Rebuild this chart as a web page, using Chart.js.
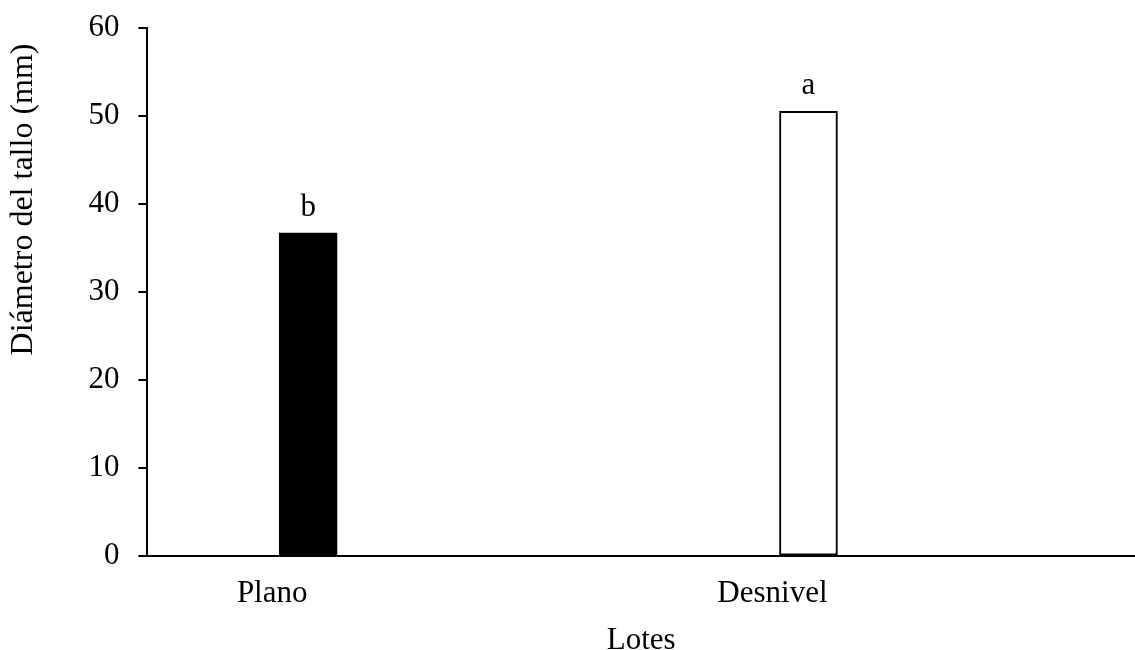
<!DOCTYPE html>
<html>
<head>
<meta charset="utf-8">
<script src="https://cdn.jsdelivr.net/npm/chart.js@4"></script>
<style>
  html, body { margin: 0; padding: 0; background: #fff; }
  #wrap { width: 1135px; height: 650px; }
</style>
</head>
<body>
<div id="wrap"><canvas id="diametroChart"></canvas></div>
<script>
// Datos del gráfico
const lotes = ["Plano", "Desnivel"];
const diametro = [36.7, 50.5];
const letras = ["b", "a"];
const colores = ["#000000", "#ffffff"];
const yTicks = [0, 10, 20, 30, 40, 50, 60];

const fuente = "'Liberation Serif', 'Times New Roman', serif";

// Letras de significancia sobre cada barra
const letrasPlugin = {
  id: "letras",
  afterDatasetsDraw(chart) {
    const ctx = chart.ctx;
    const meta = chart.getDatasetMeta(0);
    ctx.save();
    ctx.font = "31px " + fuente;
    ctx.fillStyle = "#000";
    ctx.textAlign = "center";
    ctx.textBaseline = "alphabetic";
    meta.data.forEach((bar, i) => {
      ctx.fillText(letras[i], bar.x, bar.y - 17);
    });
    ctx.restore();
  },
};

const ctx = document.getElementById("diametroChart");
const chart = new Chart(ctx, {
  type: "bar",
  data: {
    datasets: [
      {
        data: lotes.map((l, i) => ({ x: i + 1, y: diametro[i] })),
        backgroundColor: colores,
        borderColor: "#000000",
        borderWidth: 2,
        borderSkipped: false,
        barThickness: 58,
      },
    ],
  },
  options: {
    responsive: true,
    maintainAspectRatio: false,
    animation: false,
    layout: { padding: 0 },
    plugins: {
      legend: { display: false },
      tooltip: { enabled: false },
    },
    scales: {
      x: {
        type: "linear",
        offset: false,
        min: 0.6786,
        max: 2.6527,
        afterBuildTicks: (axis) => {
          axis.ticks = lotes.map((l, i) => ({ value: i + 1 }));
        },
        grid: { display: false, drawTicks: false },
        border: { display: true, color: "#000", width: 2 },
        ticks: {
          color: "#000",
          font: { family: fuente, size: 31 },
          padding: 19,
          labelOffset: -36,
          maxRotation: 0,
          callback: (v) => lotes[Math.round(v) - 1] || "",
        },
        title: {
          display: true,
          text: "Lotes",
          color: "#000",
          font: { family: fuente, size: 31, lineHeight: 0.6 },
          padding: { top: 0, bottom: 0 },
        },
      },
      y: {
        min: 0,
        max: 60,
        afterBuildTicks: (axis) => {
          axis.ticks = yTicks.map((v) => ({ value: v }));
        },
        grid: {
          drawOnChartArea: false,
          drawTicks: true,
          tickLength: 9,
          color: "#000",
          lineWidth: 2,
        },
        border: { display: true, color: "#000", width: 2 },
        ticks: {
          color: "#000",
          font: { family: fuente, size: 31, lineHeight: 0.55 },
          padding: 19,
        },
        title: {
          display: true,
          text: "Diámetro del tallo (mm)  ",
          align: "end",
          color: "#000",
          font: { family: fuente, size: 32 },
          padding: { top: 4, bottom: 27 },
        },
      },
    },
  },
  plugins: [letrasPlugin],
});
</script>
</body>
</html>
